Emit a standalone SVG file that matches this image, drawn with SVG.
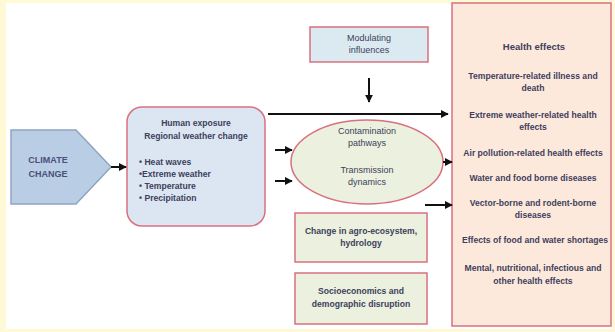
<svg xmlns="http://www.w3.org/2000/svg" width="615" height="332" viewBox="0 0 615 332">
<defs>
<marker id="ah" viewBox="0 0 10 10" refX="9" refY="5" markerWidth="8" markerHeight="8" orient="auto" markerUnits="userSpaceOnUse">
<path d="M0,0 L10,5 L0,10 z" fill="#111"/>
</marker>
<style>
.t{font-family:"Liberation Sans",Arial,sans-serif;font-size:8.6px;font-weight:bold;fill:#3d3f5c;text-anchor:middle}
.l{text-anchor:start}
.n{font-weight:normal;font-size:9px}
.c{fill:none;stroke:#111;stroke-width:2}
.pk{stroke:#d9707f;stroke-width:1.5}
</style>
</defs>
<rect x="0" y="0" width="615" height="332" fill="#fff9d6"/>
<rect x="6" y="3" width="606" height="326" fill="#ffffff"/>

<g id="health">
<rect x="452" y="3" width="159" height="323" fill="#fde9dc" class="pk"/>
<text class="t" x="534" y="50" style="font-size:9.5px">Health effects</text>
<text class="t" x="533" y="79">Temperature-related illness and</text>
<text class="t" x="533" y="91">death</text>
<text class="t" x="533" y="118">Extreme weather-related health</text>
<text class="t" x="533" y="130">effects</text>
<text class="t" x="533" y="156">Air pollution-related health effects</text>
<text class="t" x="533" y="181">Water and food borne diseases</text>
<text class="t" x="533" y="206">Vector-borne and rodent-borne</text>
<text class="t" x="533" y="218">diseases</text>
<text class="t" x="535" y="243">Effects of food and water shortages</text>
<text class="t" x="533" y="271">Mental, nutritional, infectious and</text>
<text class="t" x="533" y="284">other health effects</text>
</g>

<g id="climate">
<path d="M11,130 L76,130 L111,167 L76,204 L11,204 z" fill="#b9cde5" stroke="#8fa5c2" stroke-width="1.5"/>
<text class="t" x="48" y="163" style="font-size:9px;fill:#4b4f7a">CLIMATE</text>
<text class="t" x="48" y="177" style="font-size:9px;fill:#4b4f7a">CHANGE</text>
</g>

<g id="exposure">
<rect x="127" y="107" width="138" height="119" rx="15" fill="#dce6f2" class="pk"/>
<text class="t" x="196" y="126">Human exposure</text>
<text class="t" x="196" y="139">Regional weather change</text>
<text class="t l" x="139" y="165">• Heat waves</text>
<text class="t l" x="139" y="177">•Extreme weather</text>
<text class="t l" x="139" y="189">• Temperature</text>
<text class="t l" x="139" y="201">• Precipitation</text>
</g>

<g id="modulating">
<rect x="310" y="27" width="118" height="35" fill="#dbeaf0" class="pk"/>
<text class="t n" x="369" y="41">Modulating</text>
<text class="t n" x="369" y="53">influences</text>
</g>

<g id="contamination">
<ellipse cx="367" cy="162" rx="76" ry="42" fill="#ebf1de" class="pk"/>
<text class="t n" x="367" y="134">Contamination</text>
<text class="t n" x="367" y="146">pathways</text>
<text class="t n" x="367" y="173">Transmission</text>
<text class="t n" x="367" y="185">dynamics</text>
</g>

<g id="agro">
<rect x="295" y="213" width="132" height="49" fill="#ebf1de" class="pk"/>
<text class="t" x="361" y="234">Change in agro-ecosystem,</text>
<text class="t" x="361" y="246">hydrology</text>
</g>

<g id="socio">
<rect x="295" y="273" width="132" height="51" fill="#ebf1de" class="pk"/>
<text class="t" x="361" y="294">Socioeconomics and</text>
<text class="t" x="361" y="307">demographic disruption</text>
</g>

<g id="connectors">
<line class="c" x1="111" y1="167" x2="126" y2="167" marker-end="url(#ah)"/>
<line class="c" x1="268" y1="114" x2="448" y2="114" marker-end="url(#ah)"/>
<line class="c" x1="369" y1="78" x2="369" y2="102" marker-end="url(#ah)"/>
<line class="c" x1="275" y1="150" x2="292" y2="150" marker-end="url(#ah)"/>
<line class="c" x1="275" y1="181" x2="292" y2="181" marker-end="url(#ah)"/>
<line class="c" x1="443" y1="162" x2="452" y2="162" marker-end="url(#ah)"/>
<line class="c" x1="425" y1="205" x2="452" y2="205" marker-end="url(#ah)"/>
</g>
</svg>
